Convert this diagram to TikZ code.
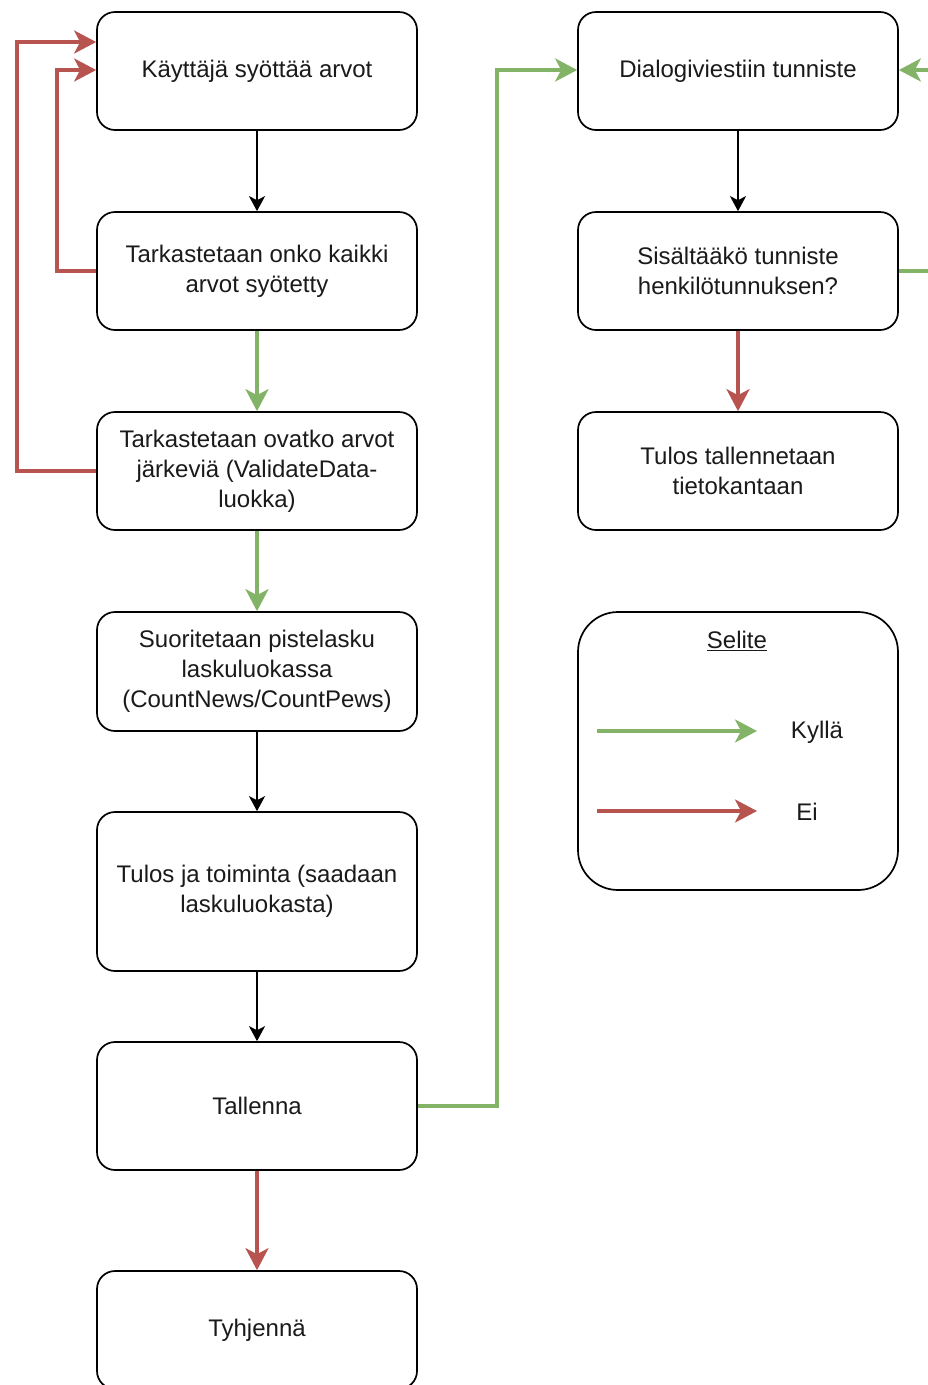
\documentclass[tikz,border=0pt]{standalone}
\usepackage{fontspec}
\setmainfont{Liberation Sans}
\usetikzlibrary{arrows.meta}
\definecolor{txt}{HTML}{1A1A1A}
\definecolor{redc}{HTML}{B85450}
\definecolor{greenc}{HTML}{82B366}
\begin{document}
\begin{tikzpicture}[x=1pt,y=-1pt,
  box/.style={draw=black,line width=1.7pt,rounded corners=18pt,minimum width=320pt,minimum height=118pt,inner sep=0pt,align=center,text=txt,font=\fontsize{24}{30}\selectfont,fill=white},
  blk/.style={draw=black,line width=1.5pt,-{Stealth[length=15pt,width=16pt,inset=4pt]}},
  grn/.style={draw=greenc,line width=3.2pt,-{Stealth[length=22pt,width=23pt,inset=6pt]}},
  rd/.style={draw=redc,line width=3.2pt,-{Stealth[length=22pt,width=23pt,inset=6pt]}},
  lbl/.style={text=txt,font=\fontsize{24}{30}\selectfont,inner sep=0pt}]
\useasboundingbox (0,0) rectangle (928,1385);
\clip (0,0) rectangle (928,1385);
\fill[white] (0,0) rectangle (928,1385);
% left column
\node[box] (b1) at (257,71) {Käyttäjä syöttää arvot};
\node[box] (b2) at (257,271) {Tarkastetaan onko kaikki\\arvot syötetty};
\node[box] (b3) at (257,471) {Tarkastetaan ovatko arvot\\järkeviä (ValidateData-\\luokka)};
\node[box,minimum height=119pt] (b4) at (257,671.5) {Suoritetaan pistelasku\\laskuluokassa\\(CountNews/CountPews)};
\node[box,minimum height=159pt] (b5) at (257,891.5) {Tulos ja toiminta (saadaan\\laskuluokasta)};
\node[box,minimum height=128pt] (b6) at (257,1106) {Tallenna};
\node[box] (b7) at (257,1330) {Tyhjennä};
% right column
\node[box] (r1) at (738,71) {Dialogiviestiin tunniste};
\node[box] (r2) at (738,271) {Sisältääkö tunniste\\henkilötunnuksen?};
\node[box] (r3) at (738,471) {Tulos tallennetaan\\tietokantaan};
\node[box,minimum height=278pt,rounded corners=40pt] (leg) at (738,751) {};
\node[lbl] (legt) at (737,641) {\underline{Selite}};
\coordinate (gA) at (597,731);
\coordinate (gB) at (757,731);
\coordinate (rA) at (597,811);
\coordinate (rB) at (757,811);
\draw[grn] (gA) -- (gB);
\draw[rd] (rA) -- (rB);
\node[lbl] (ky) at (817,732) {Kyllä};
\node[lbl] (ei) at (807,812) {Ei};
% vertical connectors
\draw[blk] (b1.south) -- (b2.north);
\draw[grn] (b2.south) -- (b3.north);
\draw[grn] (b3.south) -- (b4.north);
\draw[blk] (b4.south) -- (b5.north);
\draw[blk] (b5.south) -- (b6.north);
\draw[rd] (b6.south) -- (b7.north);
\draw[blk] (r1.south) -- (r2.north);
\draw[rd] (r2.south) -- (r3.north);
% loops
\draw[rd] (b2.west) -- (57,271) -- (57,70) -- (b1.west |- 0,70);
\draw[rd] (b3.west) -- (17,471) -- (17,42) -- (b1.west |- 0,42);
\draw[grn] (b6.east) -- (497,1106) -- (497,70) -- (r1.west |- 0,70);
\draw[grn] (r2.east) -- (945,271) -- (945,70) -- (r1.east |- 0,70);
\end{tikzpicture}
\end{document}
